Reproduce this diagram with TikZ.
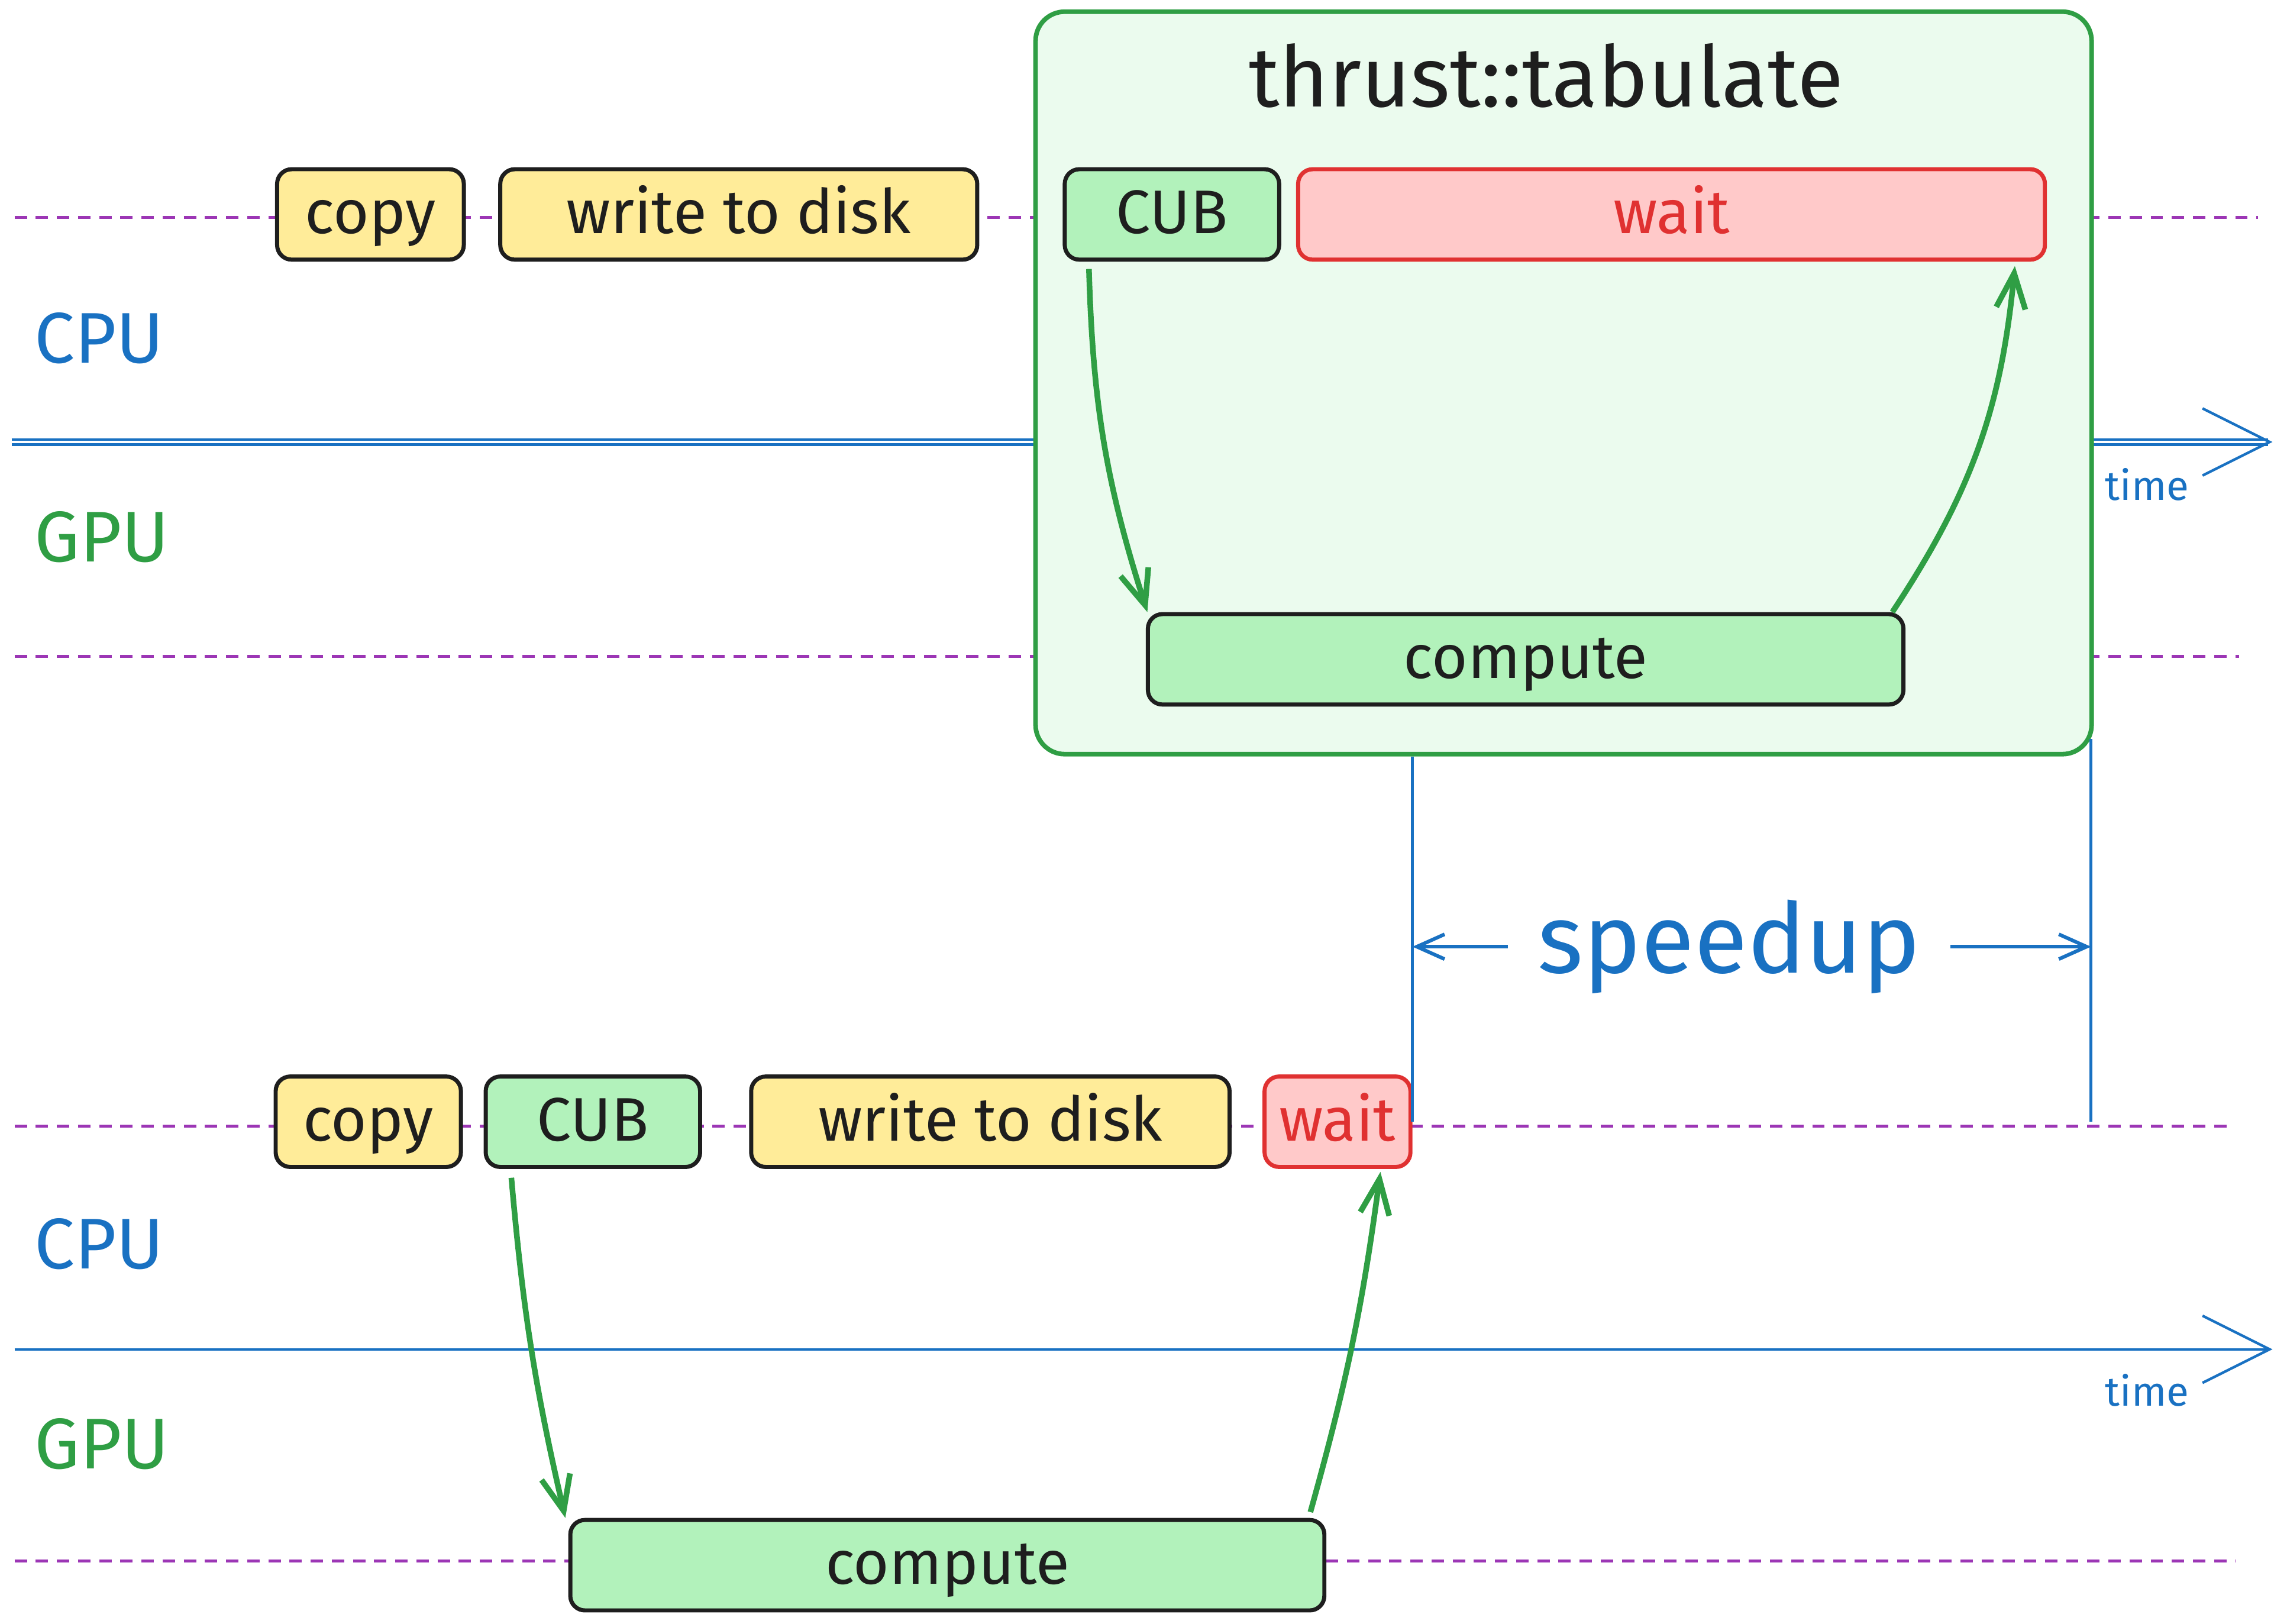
\documentclass[tikz,border=0pt]{standalone}
\usepackage{fontspec}
\setmainfont{Fira Sans}
\usetikzlibrary{arrows.meta,calc,positioning}
\definecolor{cpuBlue}{HTML}{1971C2}
\definecolor{gpuGreen}{HTML}{2F9E44}
\definecolor{waitRed}{HTML}{E03131}
\definecolor{lanePurple}{HTML}{9C36B5}
\definecolor{copyYellow}{HTML}{FFEC99}
\definecolor{cubGreen}{HTML}{B2F2BB}
\definecolor{waitPink}{HTML}{FFC9C9}
\definecolor{panelGreen}{HTML}{EBFBEE}
\definecolor{inkBlack}{HTML}{1E1E1E}
\tikzset{
  font=\fontsize{12}{14}\selectfont,
  lane/.style={draw=lanePurple, dash pattern=on 0.85mm off 0.6mm, line width=0.6pt},
  timeaxis/.style={-{Straight Barb[length=4.6mm,width=4.6mm]}, draw=cpuBlue, line width=0.5pt},
  launch/.style={-{Straight Barb[length=2.4mm,width=2.0mm]}, draw=gpuGreen, line width=1.1pt},
  marker/.style={draw=cpuBlue, line width=0.6pt},
  spdarrow/.style={-{Straight Barb[length=1.9mm,width=1.7mm]}, draw=cpuBlue, line width=0.7pt},
  task/.style={rectangle, rounded corners=1mm, draw=inkBlack, line width=0.8pt, minimum height=0.62cm, inner sep=0pt, text height=0.34cm, text depth=0.08cm, text=inkBlack},
  copybox/.style={task, fill=copyYellow},
  cubbox/.style={task, fill=cubGreen},
  waitbox/.style={task, fill=waitPink, draw=waitRed, text=waitRed},
  panel/.style={rectangle, rounded corners=2mm, draw=gpuGreen, line width=0.9pt, fill=panelGreen, minimum width=7.24cm, minimum height=5.09cm},
  title/.style={text=inkBlack, font=\fontsize{16.5}{20}\selectfont},
  cpuLabel/.style={text=cpuBlue, font=\fontsize{14}{16}\selectfont},
  gpuLabel/.style={text=gpuGreen, font=\fontsize{14}{16}\selectfont},
  timeLabel/.style={text=cpuBlue, font=\fontsize{8}{10}\selectfont},
  spdLabel/.style={text=cpuBlue, font=\fontsize{19}{23}\selectfont, inner xsep=0.2cm, inner ysep=0pt}
}

\begin{document}
\begin{tikzpicture}[x=1cm,y=1cm]
\useasboundingbox (0,0) rectangle (15.68,11.13);

% --------------------------------------------------------------------------
% Top timeline — with thrust::tabulate
% --------------------------------------------------------------------------
\coordinate (tCpuL) at (0.10,9.64);
\coordinate (tCpuR) at (15.48,9.64);
\coordinate (tGpuL) at (0.10,6.63);
\coordinate (tGpuR) at (15.35,6.63);
\coordinate (tAxisL) at (0.08,8.10);
\coordinate (tAxisR) at (15.58,8.10);
\draw[lane] (tCpuL) -- (tCpuR);
\draw[lane] (tGpuL) -- (tGpuR);
\draw[timeaxis, double=white, double distance=0.5pt] (tAxisL) -- (tAxisR);

\node[cpuLabel] (tCpu) at (0.68,8.81) {CPU};
\node[gpuLabel] (tGpu) at (0.70,7.45) {GPU};
\node[timeLabel] (tTime) at (14.72,7.81) {time};

\node[copybox, minimum width=1.28cm] (tCopy) at (2.54,9.66) {copy};
\node[copybox, minimum width=3.27cm] (tWrite) at (5.065,9.66) {write to disk};

\node[panel] (tabPanel) at (10.72,8.505) {};
\node[title] (tabTitle) at (10.60,10.61) {thrust::tabulate};
\node[cubbox, minimum width=1.47cm] (tCub) at (8.035,9.66) {CUB};
\node[waitbox, minimum width=5.12cm] (tWait) at (11.46,9.66) {wait};
\node[cubbox, minimum width=5.18cm] (tComp) at (10.46,6.61) {compute};

\draw[launch] ([xshift=0.18cm,yshift=-0.05cm]tCub.south west) to[bend right=8] ([xshift=0.01cm]tComp.north west);
\draw[launch] ([xshift=-0.09cm]tComp.north east) to[bend right=14] ([xshift=-0.22cm,yshift=-0.03cm]tWait.south east);

% --------------------------------------------------------------------------
% Bottom timeline — CUB only
% --------------------------------------------------------------------------
\coordinate (bCpuL) at (0.10,3.41);
\coordinate (bCpuR) at (15.30,3.41);
\coordinate (bGpuL) at (0.10,0.43);
\coordinate (bGpuR) at (15.33,0.43);
\coordinate (bAxisL) at (0.10,1.88);
\coordinate (bAxisR) at (15.58,1.88);
\draw[lane] (bCpuL) -- (bCpuR);
\draw[lane] (bGpuL) -- (bGpuR);
\draw[timeaxis] (bAxisL) -- (bAxisR);

\node[cpuLabel] (bCpu) at (0.68,2.60) {CPU};
\node[gpuLabel] (bGpu) at (0.70,1.23) {GPU};
\node[timeLabel] (bTime) at (14.72,1.60) {time};

\node[copybox, minimum width=1.27cm] (bCopy) at (2.525,3.44) {copy};
\node[cubbox, minimum width=1.47cm] (bCub) at (4.065,3.44) {CUB};
\node[copybox, minimum width=3.28cm] (bWrite) at (6.79,3.44) {write to disk};
\node[waitbox, minimum width=1.00cm] (bWait) at (9.17,3.44) {wait};
\node[cubbox, minimum width=5.17cm] (bComp) at (6.495,0.40) {compute};

\draw[launch] ([xshift=0.19cm,yshift=-0.06cm]bCub.south west) to[bend right=4] ([xshift=-0.02cm]bComp.north west);
\draw[launch] ([xshift=-0.11cm,yshift=0.04cm]bComp.north east) to[bend right=4] ([xshift=-0.22cm,yshift=-0.02cm]bWait.south east);

% --------------------------------------------------------------------------
% Speedup
% --------------------------------------------------------------------------
\coordinate (spdR) at ([xshift=-0.02cm,yshift=0.12cm]tabPanel.south east);
\draw[marker] (bWait.east |- tabPanel.south) -- (bWait.east);
\draw[marker] (spdR) -- (spdR |- bWait.east);
\node[spdLabel] (spdTxt) at (11.855,4.64) {speedup};
\draw[spdarrow] (spdTxt.west) -- (spdTxt.west -| bWait.east);
\draw[spdarrow] (spdTxt.east) -- (spdTxt.east -| spdR);

\end{tikzpicture}
\end{document}
